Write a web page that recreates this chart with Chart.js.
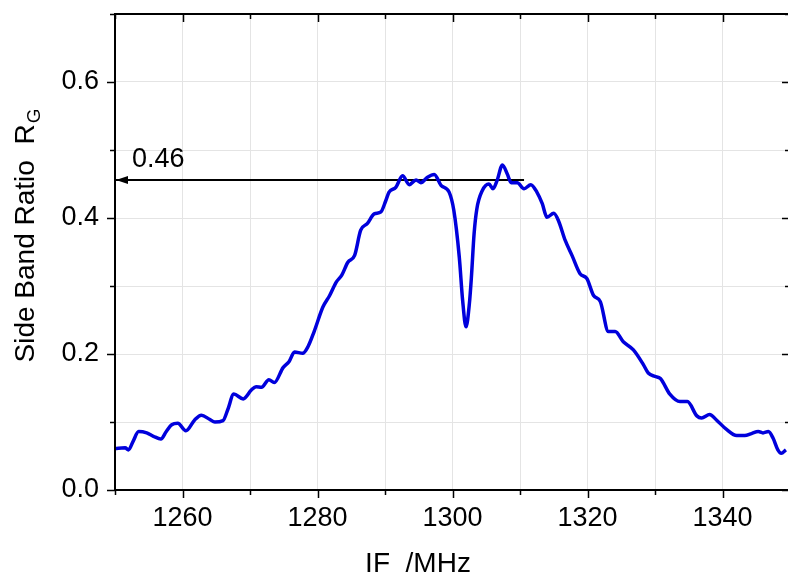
<!DOCTYPE html>
<html>
<head>
<meta charset="utf-8">
<script src="https://cdn.jsdelivr.net/npm/chart.js@4"></script>
<style>
    html, body { margin: 0; padding: 0; background: #fff; overflow: hidden; }
    #wrap { width: 788px; height: 576px; overflow: hidden; }
</style>
</head>
<body>
<div id="wrap"><canvas id="sbrChart" width="800" height="576"></canvas></div>
<script>
// --- DATA ---
const ifFreq = [
    1250.0, 1251.5, 1252.0, 1252.7, 1253.5, 1254.7, 1255.7, 1256.8, 1257.6, 1258.4,
    1259.3, 1260.5, 1261.8, 1262.8, 1264.0, 1264.8, 1266.0, 1266.7, 1267.6, 1269.0,
    1270.2, 1270.9, 1271.7, 1272.8, 1273.6, 1274.9, 1275.8, 1276.6, 1277.8, 1278.6,
    1279.5, 1280.8, 1281.8, 1282.8, 1283.6, 1284.5, 1285.5, 1286.4, 1287.4, 1288.4,
    1289.4, 1290.1, 1290.6, 1291.6, 1292.6, 1293.6, 1294.6, 1295.3, 1296.3, 1297.3,
    1298.3, 1299.5, 1300.2, 1301.0, 1301.5, 1302.0, 1302.5, 1302.8, 1303.2, 1303.6,
    1304.4, 1305.4, 1306.0, 1306.6, 1307.4, 1308.1, 1308.7, 1309.6, 1310.6, 1311.6,
    1312.5, 1313.3, 1314.0, 1315.0, 1315.7, 1316.7, 1317.7, 1318.9, 1319.9, 1320.9,
    1321.9, 1323.1, 1324.1, 1325.3, 1326.8, 1328.3, 1329.0, 1330.0, 1330.8, 1332.2,
    1333.7, 1334.8, 1336.2, 1336.9, 1338.1, 1339.1, 1340.6, 1342.1, 1343.3, 1344.3,
    1345.3, 1346.0, 1346.8, 1347.5, 1348.2, 1348.7, 1349.4
];
const ratio = [
    0.061, 0.062, 0.059, 0.072, 0.086, 0.084, 0.079, 0.075, 0.086, 0.096,
    0.098, 0.087, 0.103, 0.110, 0.104, 0.100, 0.102, 0.118, 0.141, 0.134,
    0.147, 0.152, 0.151, 0.162, 0.158, 0.180, 0.189, 0.203, 0.201, 0.211,
    0.233, 0.269, 0.286, 0.306, 0.316, 0.335, 0.345, 0.382, 0.392, 0.406,
    0.409, 0.425, 0.438, 0.445, 0.462, 0.449, 0.456, 0.452, 0.460, 0.464,
    0.448, 0.438, 0.411, 0.343, 0.279, 0.240, 0.274, 0.313, 0.377, 0.413,
    0.440, 0.450, 0.443, 0.455, 0.478, 0.465, 0.452, 0.452, 0.443, 0.449,
    0.438, 0.421, 0.401, 0.407, 0.396, 0.367, 0.345, 0.318, 0.311, 0.286,
    0.277, 0.233, 0.233, 0.218, 0.206, 0.184, 0.172, 0.167, 0.164, 0.141,
    0.130, 0.130, 0.109, 0.106, 0.111, 0.103, 0.089, 0.080, 0.080, 0.083,
    0.086, 0.084, 0.086, 0.076, 0.059, 0.054, 0.059
];
// arrow marking the plateau level
const arrowX = [1250, 1310.6];
const arrowY = 0.456;
const arrowLabel = '0.46';

const xMin = 1250, xMax = 1350, xStep = 10, xLabelStep = 20;
const yMin = 0, yMax = 0.7, yStep = 0.1;
const yLabels = [0.0, 0.2, 0.4, 0.6];

const FONT = "'Liberation Sans', Arial, sans-serif";

// --- PLUGINS ---
const frameTicks = {
    id: 'frameTicks',
    afterDraw(chart) {
        const { ctx, chartArea: a, scales: { x, y } } = chart;
        ctx.save();
        ctx.strokeStyle = '#000';
        ctx.lineWidth = 2;
        ctx.strokeRect(a.left, a.top, a.right - a.left, a.bottom - a.top);

        ctx.lineWidth = 1.5;
        ctx.beginPath();
        x.ticks.forEach(t => {
            const px = Math.round(x.getPixelForValue(t.value)) + 0.5;
            const len = (Math.round(t.value) % xLabelStep === 0) ? 8 : 5;
            ctx.moveTo(px, a.bottom); ctx.lineTo(px, a.bottom + len);
            ctx.moveTo(px, a.top); ctx.lineTo(px, a.top + len);
        });
        y.ticks.forEach(t => {
            const py = Math.round(y.getPixelForValue(t.value)) + 0.5;
            const major = yLabels.some(v => Math.abs(v - t.value) < 1e-6);
            const len = major ? 8 : 5;
            ctx.moveTo(a.left - len, py); ctx.lineTo(a.left, py);
            ctx.moveTo(a.right - len, py); ctx.lineTo(a.right, py);
        });
        ctx.stroke();
        ctx.restore();
    }
};

const arrowMark = {
    id: 'arrowMark',
    afterDatasetsDraw(chart) {
        const { ctx, scales: { x, y } } = chart;
        const px = x.getPixelForValue(arrowX[0]);
        const py = y.getPixelForValue(arrowY);
        ctx.save();
        ctx.fillStyle = '#000';
        ctx.beginPath();
        ctx.moveTo(px + 1, py);
        ctx.lineTo(px + 13, py - 4);
        ctx.lineTo(px + 13, py + 4);
        ctx.closePath();
        ctx.fill();
        ctx.font = '27px ' + FONT;
        ctx.textAlign = 'left';
        ctx.textBaseline = 'alphabetic';
        ctx.fillText(arrowLabel, x.getPixelForValue(1252.5), py - 13);
        ctx.restore();
    }
};

const axisTitles = {
    id: 'axisTitles',
    afterDraw(chart) {
        const { ctx } = chart;
        ctx.save();
        ctx.fillStyle = '#000';
        ctx.textBaseline = 'alphabetic';

        // x title
        ctx.font = '28px ' + FONT;
        ctx.textAlign = 'center';
        ctx.fillText('IF  /MHz', 418, 572);

        // y title with subscript
        const main = 'Side Band Ratio  R';
        const sub = 'G';
        ctx.font = '28px ' + FONT;
        const wMain = ctx.measureText(main).width;
        ctx.font = '19px ' + FONT;
        const wSub = ctx.measureText(sub).width;
        const total = wMain + wSub;
        ctx.translate(34, 236);
        ctx.rotate(-Math.PI / 2);
        ctx.textAlign = 'left';
        ctx.font = '28px ' + FONT;
        ctx.fillText(main, -total / 2, 0);
        ctx.font = '19px ' + FONT;
        ctx.fillText(sub, -total / 2 + wMain + 1, 6);
        ctx.restore();
    }
};

// no extra room for overflowing edge labels
function noPad(s) {
    s.paddingTop = 0; s.paddingBottom = 0;
    s.paddingLeft = 0; s.paddingRight = 0;
}

// --- CHART ---
const ctx = document.getElementById('sbrChart').getContext('2d');
new Chart(ctx, {
    type: 'line',
    data: {
        datasets: [
            {
                label: 'R_G',
                data: ifFreq.map((f, i) => ({ x: f, y: ratio[i] })),
                borderColor: '#0000dc',
                borderWidth: 3.5,
                pointRadius: 0,
                cubicInterpolationMode: 'monotone',
                fill: false
            },
            {
                label: 'level',
                data: arrowX.map(f => ({ x: f, y: arrowY })),
                borderColor: '#000',
                borderWidth: 2,
                pointRadius: 0,
                fill: false
            }
        ]
    },
    options: {
        responsive: false,
        animation: false,
        devicePixelRatio: 1,
        layout: { padding: { left: 0, right: 10, top: 14, bottom: 0 } },
        plugins: {
            legend: { display: false },
            tooltip: { enabled: false }
        },
        scales: {
            x: {
                type: 'linear',
                min: xMin,
                max: xMax,
                afterFit: s => { s.height = 86; noPad(s); },
                border: { display: false },
                grid: { color: '#e4e4e4', lineWidth: 1, drawTicks: false },
                ticks: {
                    stepSize: xStep,
                    autoSkip: false,
                    maxRotation: 0,
                    padding: 12,
                    color: '#000',
                    font: { family: FONT, size: 27 },
                    callback: v => (Math.round(v) % xLabelStep === 0 && v > xMin && v < xMax) ? String(v) : ''
                }
            },
            y: {
                type: 'linear',
                min: yMin,
                max: yMax,
                afterFit: s => { s.width = 115; noPad(s); },
                border: { display: false },
                grid: { color: '#e4e4e4', lineWidth: 1, drawTicks: false },
                ticks: {
                    stepSize: yStep,
                    autoSkip: false,
                    padding: 16,
                    color: '#000',
                    font: { family: FONT, size: 27 },
                    callback: v => yLabels.some(l => Math.abs(l - v) < 1e-6) ? v.toFixed(1) : ''
                }
            }
        }
    },
    plugins: [frameTicks, arrowMark, axisTitles]
});
</script>
</body>
</html>
